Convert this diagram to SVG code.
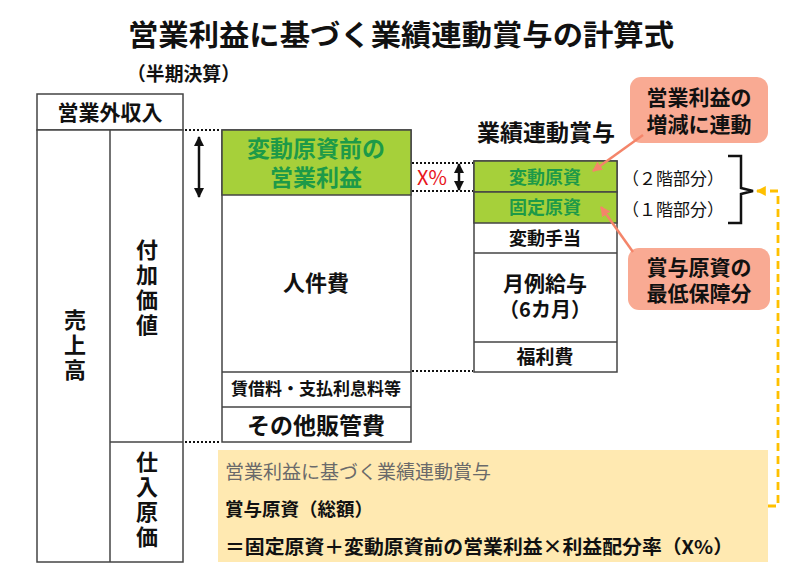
<svg xmlns="http://www.w3.org/2000/svg" width="800" height="571" viewBox="0 0 800 571">
<style>
text{font-family:"Noto Sans CJK JP","Noto Sans",sans-serif;fill:#111;}
.b{font-weight:bold;}
.box{fill:#fff;stroke:#444;stroke-width:1.5;}
.green{fill:#a6d03a;stroke:#444;stroke-width:1.5;}
.gt{fill:#1d9a48;font-weight:bold;}
.dot{stroke:#111;stroke-width:2.2;stroke-dasharray:2 2;fill:none;}
.pink{fill:#f9aa93;}
.parr{stroke:#f4856a;stroke-width:2.5;fill:none;}
.c{text-anchor:middle;}
.v{writing-mode:vertical-rl;letter-spacing:3px;font-weight:bold;font-size:22px;}
</style>
<defs>
<marker id="ah" viewBox="0 0 10 10" refX="9" refY="5" markerWidth="4" markerHeight="4" orient="auto-start-reverse"><path d="M0,0 L10,5 L0,10 z" fill="#111"/></marker>
<marker id="ph" viewBox="0 0 10 10" refX="9" refY="5" markerWidth="4" markerHeight="4" orient="auto"><path d="M0,0 L10,5 L0,10 z" fill="#f4856a"/></marker>
<marker id="yh" viewBox="0 0 10 10" refX="9" refY="5" markerWidth="3.5" markerHeight="3.5" orient="auto"><path d="M0,0 L10,5 L0,10 z" fill="#ffc000"/></marker>
</defs>

<text x="128" y="46" class="b" font-size="29" textLength="546" lengthAdjust="spacingAndGlyphs">営業利益に基づく業績連動賞与の計算式</text>
<text x="127" y="81" font-size="19" class="b" textLength="113" lengthAdjust="spacingAndGlyphs">（半期決算）</text>

<g id="left">
<rect x="37" y="94" width="146" height="36" class="box"/>
<text x="110" y="120" class="b c" font-size="21">営業外収入</text>
<rect x="37" y="130" width="146" height="432" class="box"/>
<line x1="110" y1="130" x2="110" y2="562" stroke="#444" stroke-width="1.5"/>
<line x1="110" y1="442" x2="183" y2="442" stroke="#444" stroke-width="1.5"/>
<text x="75" y="309" class="v">売上高</text>
<text x="147" y="239" class="v">付加価値</text>
<text x="147" y="451" class="v">仕入原価</text>
</g>

<g id="middle">
<rect x="222" y="130" width="189" height="312" class="box"/>
<rect x="222" y="130" width="189" height="65" class="green"/>
<text x="316" y="157" class="gt c" font-size="23">変動原資前の</text>
<text x="316" y="186" class="gt c" font-size="23">営業利益</text>
<text x="316" y="291" class="b c" font-size="22">人件費</text>
<line x1="222" y1="372" x2="411" y2="372" stroke="#444" stroke-width="1.5"/>
<line x1="222" y1="407" x2="411" y2="407" stroke="#444" stroke-width="1.5"/>
<text x="316" y="395" class="b c" font-size="17">賃借料・支払利息料等</text>
<text x="316" y="434" class="b c" font-size="23">その他販管費</text>
</g>

<g id="right">
<text x="546" y="141" class="b c" font-size="23">業績連動賞与</text>
<rect x="474" y="161" width="143" height="211" class="box"/>
<rect x="474" y="161" width="143" height="31" class="green"/>
<rect x="474" y="192" width="143" height="31" class="green"/>
<line x1="474" y1="253" x2="617" y2="253" stroke="#444" stroke-width="1.5"/>
<line x1="474" y1="342" x2="617" y2="342" stroke="#444" stroke-width="1.5"/>
<text x="545" y="184" class="gt c" font-size="18">変動原資</text>
<text x="545" y="214" class="gt c" font-size="18">固定原資</text>
<text x="545" y="245" class="b c" font-size="18">変動手当</text>
<text x="545" y="291" class="b c" font-size="21">月例給与</text>
<text x="545" y="317" class="b c" font-size="20">（6カ月）</text>
<text x="545" y="364" class="b c" font-size="19">福利費</text>
<text x="622" y="185" font-size="17">（２階部分）</text>
<text x="622" y="216" font-size="17">（１階部分）</text>
<path d="M728,156 H741 V188 L753,191 L741,194 V223 H728" fill="none" stroke="#111" stroke-width="2.5" stroke-linejoin="miter"/>
</g>

<g id="callout1">
<rect x="630" y="77" width="138" height="66" rx="11" class="pink"/>
<text x="699" y="105" class="b c" font-size="21">営業利益の</text>
<text x="699" y="132" class="b c" font-size="21">増減に連動</text>
</g>

<g id="callout2">
<rect x="628" y="248" width="142" height="62" rx="11" class="pink"/>
<text x="699" y="275" class="b c" font-size="21">賞与原資の</text>
<text x="699" y="301" class="b c" font-size="21">最低保障分</text>
</g>

<g id="formula">
<rect x="218" y="450" width="550" height="112" fill="#ffe9b1"/>
<text x="225" y="479" font-size="19" style="fill:#6a6a6a">営業利益に基づく業績連動賞与</text>
<text x="225" y="516" class="b" font-size="18.5">賞与原資（総額）</text>
<text x="225" y="554" class="b" font-size="19" textLength="508" lengthAdjust="spacingAndGlyphs">＝固定原資＋変動原資前の営業利益×利益配分率（X%）</text>
</g>

<g id="connectors">
<path class="dot" d="M185,130 H221"/>
<path class="dot" d="M185,442 H221"/>
<path class="dot" d="M412,163 H473"/>
<path class="dot" d="M412,191 H473"/>
<path class="dot" d="M412,371 H473"/>
<line x1="199" y1="137" x2="199" y2="197" stroke="#111" stroke-width="2.5" marker-start="url(#ah)" marker-end="url(#ah)"/>
<line x1="459" y1="164" x2="459" y2="190" stroke="#111" stroke-width="2.5" marker-start="url(#ah)" marker-end="url(#ah)"/>
<text x="417" y="185" font-size="20" style="fill:#e8141b">X%</text>
<line class="parr" x1="643" y1="135" x2="593" y2="171" marker-end="url(#ph)"/>
<line class="parr" x1="633" y1="252" x2="601" y2="207" marker-end="url(#ph)"/>
<path d="M768,506 H778 V191 H757" fill="none" stroke="#ffc000" stroke-width="2.8" stroke-dasharray="8 5" marker-end="url(#yh)"/>
</g>
</svg>
